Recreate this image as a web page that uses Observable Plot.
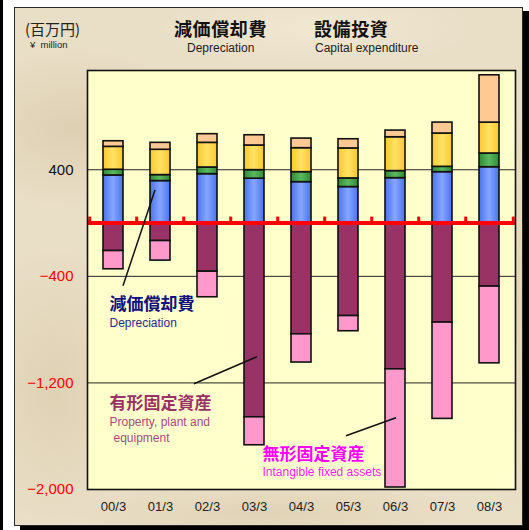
<!DOCTYPE html>
<html>
<head>
<meta charset="utf-8">
<script src="https://cdn.jsdelivr.net/npm/d3@7"></script>
<script src="https://cdn.jsdelivr.net/npm/@observablehq/plot@0.6"></script>
<style>
  html, body { margin: 0; padding: 0; background: #ffffff; }
  #wrap { position: relative; width: 529px; height: 530px; overflow: hidden; }
  #strip { position: absolute; left: 0; top: 0; width: 3px; height: 530px; background: #000; }
  #panel {
    position: absolute; left: 14px; top: 7px; width: 507px; height: 517px;
    border: 1.5px solid #2a2a2a;
    box-shadow: 6px 4px 0 #000;
    background:
      radial-gradient(ellipse 120px 80px at 60px 120px, rgba(200,180,140,0.35), rgba(0,0,0,0)),
      radial-gradient(ellipse 90px 140px at 40px 380px, rgba(205,185,145,0.35), rgba(0,0,0,0)),
      radial-gradient(ellipse 160px 40px at 300px 20px, rgba(250,240,220,0.5), rgba(0,0,0,0)),
      radial-gradient(ellipse 200px 30px at 250px 505px, rgba(210,190,150,0.35), rgba(0,0,0,0)),
      radial-gradient(ellipse 60px 200px at 500px 300px, rgba(210,190,150,0.3), rgba(0,0,0,0)),
      #e9dec6;
  }
  .t { position: absolute; white-space: nowrap; line-height: 1; }
  .jp { font-family: "Noto Sans CJK JP", sans-serif; }
  .en { font-family: "Liberation Sans", Arial, sans-serif; }
  #chart { position: absolute; left: 0; top: 0; }
</style>
</head>
<body>
<svg width="0" height="0" style="position:absolute">
  <defs>
    <linearGradient id="gBlue" x1="0" x2="1" y1="0" y2="0">
      <stop offset="0" stop-color="#4a72ee"/>
      <stop offset="0.5" stop-color="#86a6ff"/>
      <stop offset="1" stop-color="#4a72ee"/>
    </linearGradient>
    <linearGradient id="gGreen" x1="0" x2="1" y1="0" y2="0">
      <stop offset="0" stop-color="#2f8a35"/>
      <stop offset="0.5" stop-color="#5cb860"/>
      <stop offset="1" stop-color="#2f8a35"/>
    </linearGradient>
    <linearGradient id="gYellow" x1="0" x2="1" y1="0" y2="0">
      <stop offset="0" stop-color="#fcc82a"/>
      <stop offset="0.5" stop-color="#ffe266"/>
      <stop offset="1" stop-color="#fcc82a"/>
    </linearGradient>
  </defs>
</svg>
<div id="wrap">
  <div id="strip"></div>
  <div id="panel"></div>
  <div class="t jp" style="left:25px;top:21px;font-size:15px;color:#222;">(百万円)</div>
  <div class="t en" style="left:30px;top:40px;font-size:9.5px;color:#222;">¥&nbsp; million</div>
  <div class="t jp" style="left:174px;top:19px;font-size:18px;font-weight:bold;color:#111;letter-spacing:0.6px;">減価償却費</div>
  <div class="t en" style="left:187px;top:42px;font-size:12px;color:#222;">Depreciation</div>
  <div class="t jp" style="left:314px;top:19px;font-size:18px;font-weight:bold;color:#111;letter-spacing:0.6px;">設備投資</div>
  <div class="t en" style="left:315px;top:42px;font-size:12px;color:#222;">Capital expenditure</div>
  <div id="chart"></div>
</div>
<script>
// ---- data ----
const categories = ["00/3","01/3","02/3","03/3","04/3","05/3","06/3","07/3","08/3"];
const depBlue    = [357, 315, 367, 333, 307, 270, 337, 382, 419];
const depGreen   = [ 43,  45,  50,  64,  75,  65,  53,  40, 103];
const depYellow  = [172, 190, 185, 185, 180, 225, 254, 250, 232];
const depPeach   = [ 42,  52,  65,  77,  72,  69,  50,  82, 355];
const capexPPE        = [-210, -135, -365, -1458, -835, -698, -1098, -747, -477];
const capexIntangible = [-137, -147, -192,  -210, -212, -114,  -887, -723, -576];
const yTicks = [-2000, -1200, -400, 400];

const seriesNames = ["depBlue","depGreen","depYellow","depPeach","capexPPE","capexIntangible"];
const seriesValues = [depBlue, depGreen, depYellow, depPeach, capexPPE, capexIntangible];
const seriesFills = ["url(#gBlue)","url(#gGreen)","url(#gYellow)","#ffc994","#993366","#ff99cc"];

const rows = [];
seriesNames.forEach((s, i) => categories.forEach((c, j) => rows.push({cat: c, series: s, value: seriesValues[i][j]})));

// annotation texts (anchored in data space: category, value, pixel nudge)
const annoTexts = [
  {cat:"00/3", v:-610,  dx:-4, text:"減価償却費", color:"#101080", size:17, bold:true, jp:true},
  {cat:"00/3", v:-752,  dx:-4, text:"Depreciation", color:"#1f2a8c", size:12, bold:false, jp:false},
  {cat:"00/3", v:-1355, dx:-4, text:"有形固定資産", color:"#993366", size:17, bold:true, jp:true},
  {cat:"00/3", v:-1497, dx:-4, text:"Property, plant and", color:"#a44d7c", size:12, bold:false, jp:false},
  {cat:"00/3", v:-1615, dx:0,  text:"equipment", color:"#a44d7c", size:12, bold:false, jp:false},
  {cat:"03/3", v:-1735, dx:8,  text:"無形固定資産", color:"#ff00ff", size:17, bold:true, jp:true},
  {cat:"03/3", v:-1872, dx:8,  text:"Intangible fixed assets", color:"#ff22ff", size:12, bold:false, jp:false}
];
// leader lines: [category, band-offset px, value] for each end
const annoLines = [
  [["01/3", -5, 245],  ["00/3", 10, -475]],
  [["02/3", -13, -1210], ["03/3", 3, -1007]],
  [["05/3", -2, -1600], ["06/3", 1, -1465]]
];

const W = 529, H = 530, mL = 87, mR = 14, mT = 70, mB = 41;
const step = (W - mL - mR) / categories.length;

const plot = Plot.plot({
  width: W, height: H,
  marginLeft: mL, marginRight: mR, marginTop: mT, marginBottom: mB,
  style: {background: "transparent", fontFamily: "Liberation Sans, Arial, sans-serif"},
  x: {domain: categories, paddingInner: 0.58, paddingOuter: 0.29, label: null},
  y: {domain: [-2000, 1145], axis: null},
  color: {type: "ordinal", domain: seriesNames, range: seriesFills},
  marks: [
    Plot.frame({fill: "#ffffcc"}),
    Plot.ruleY(yTicks, {stroke: "#222", strokeWidth: 1}),
    Plot.barY(rows, {x: "cat", y: "value", fill: "series", z: "series", order: seriesNames,
      stroke: "#111", strokeWidth: 1.6}),
    Plot.ruleY([0], {stroke: "#ff0000", strokeWidth: 4}),
    Plot.ruleX(categories, {x: d => d, y1: 0, y2: 45, stroke: "#ff0000", strokeWidth: 3, dx: -step / 2}),
    Plot.ruleX(categories.slice(-1), {x: d => d, y1: 0, y2: 45, stroke: "#ff0000", strokeWidth: 3, dx: step / 2}),
    Plot.frame({stroke: "#111", strokeWidth: 1.6}),
    Plot.text(yTicks, {y: d => d, frameAnchor: "left", dx: -14, textAnchor: "end",
      text: d => d3.format(",")(d), fill: d => d < 0 ? "#ff0000" : "#111", fontSize: 15}),
    Plot.axisX({tickSize: 0, tickPadding: 12, fontSize: 13, fill: "#222", label: null}),
    ...annoTexts.map(a => Plot.text([a], {x: "cat", y: "v", text: "text", dx: a.dx,
      textAnchor: "start", fill: a.color, fontSize: a.size, fontWeight: a.bold ? "bold" : "normal",
      fontFamily: a.jp ? "Noto Sans CJK JP, sans-serif" : "Liberation Sans, Arial, sans-serif"}))
  ]
});

// leader lines drawn with the plot's own scales
const xs = plot.scale("x"), ys = plot.scale("y");
const px = (c, off) => xs.apply(c) + xs.bandwidth / 2 + off;
const g = d3.select(plot).append("g");
annoLines.forEach(([a, b]) => {
  g.append("line")
    .attr("x1", px(a[0], a[1])).attr("y1", ys.apply(a[2]))
    .attr("x2", px(b[0], b[1])).attr("y2", ys.apply(b[2]))
    .attr("stroke", "#111").attr("stroke-width", 1.5);
});

document.getElementById("chart").appendChild(plot);
</script>
</body>
</html>
